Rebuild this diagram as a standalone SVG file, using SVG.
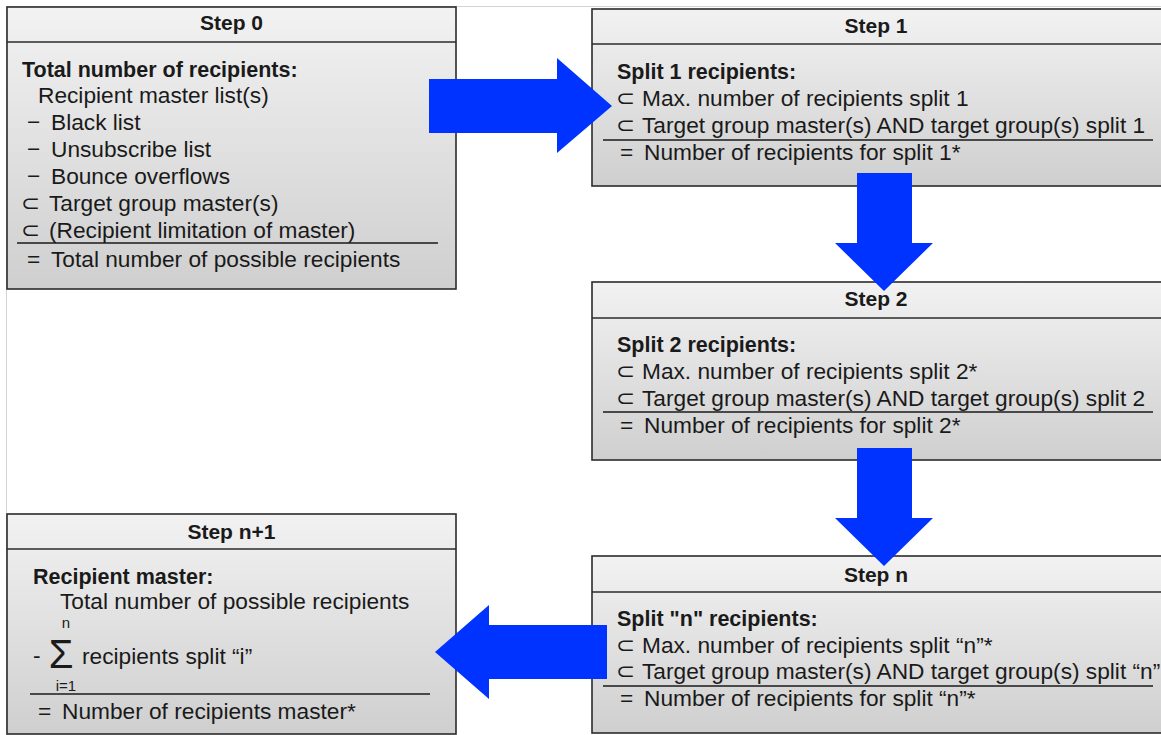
<svg xmlns="http://www.w3.org/2000/svg" width="1161" height="735" viewBox="0 0 1161 735">
<defs>
<linearGradient id="g" x1="0" y1="0" x2="0" y2="1">
<stop offset="0" stop-color="#f2f2f2"/>
<stop offset="1" stop-color="#cfcfcf"/>
</linearGradient>
</defs>
<style>
.box{fill:url(#g);stroke:#2b2b2b;stroke-width:1.6}
.ln{stroke:#2b2b2b;stroke-width:1.6;fill:none}
.sep{stroke:#1a1a1a;stroke-width:1.4;fill:none}
text{font-family:"Liberation Sans","DejaVu Sans",Arial,sans-serif;fill:#1a1a1a}
.t{font-size:21px;font-weight:bold;text-anchor:middle}
.b{font-size:21.5px;font-weight:bold}
.r{font-size:22.7px}
.s{font-size:15px}
.sub{font-family:"DejaVu Sans",sans-serif}
.arr{fill:#0033ff}
</style>
<rect width="1161" height="735" fill="#ffffff"/>
<path d="M6.5,735 V6.5 H1161" fill="none" stroke="#d4d4d4" stroke-width="1"/>

<g id="step0">
<rect class="box" x="7" y="7" width="449" height="282"/>
<line class="ln" x1="7" y1="42" x2="456" y2="42"/>
<text class="t" x="231.5" y="30">Step 0</text>
<text class="b" x="22" y="77">Total number of recipients:</text>
<text class="r" x="38" y="103">Recipient master list(s)</text>
<text class="r" y="130"><tspan x="27">−</tspan><tspan x="51">Black list</tspan></text>
<text class="r" y="157"><tspan x="27">−</tspan><tspan x="51">Unsubscribe list</tspan></text>
<text class="r" y="184"><tspan x="27">−</tspan><tspan x="51">Bounce overflows</tspan></text>
<text class="r" y="211"><tspan x="21" class="sub">⊂</tspan><tspan x="49">Target group master(s)</tspan></text>
<text class="r" y="238"><tspan x="21" class="sub">⊂</tspan><tspan x="49">(Recipient limitation of master)</tspan></text>
<line class="sep" x1="17" y1="243" x2="438" y2="243"/>
<text class="r" y="267"><tspan x="27">=</tspan><tspan x="51">Total number of possible recipients</tspan></text>
</g>

<g id="step1">
<rect class="box" x="592" y="9" width="575" height="177"/>
<line class="ln" x1="592" y1="44" x2="1161" y2="44"/>
<text class="t" x="876" y="33">Step 1</text>
<text class="b" x="617" y="79">Split 1 recipients:</text>
<text class="r" y="106"><tspan x="616" class="sub">⊂</tspan><tspan x="642">Max. number of recipients split 1</tspan></text>
<text class="r" y="133"><tspan x="616" class="sub">⊂</tspan><tspan x="642">Target group master(s) AND target group(s) split 1</tspan></text>
<line class="sep" x1="603" y1="140" x2="1153" y2="140"/>
<text class="r" y="160"><tspan x="620">=</tspan><tspan x="644">Number of recipients for split 1*</tspan></text>
</g>

<g id="step2">
<rect class="box" x="592" y="282" width="575" height="178"/>
<line class="ln" x1="592" y1="318" x2="1161" y2="318"/>
<text class="t" x="876" y="306">Step 2</text>
<text class="b" x="617" y="352">Split 2 recipients:</text>
<text class="r" y="379"><tspan x="616" class="sub">⊂</tspan><tspan x="642">Max. number of recipients split 2*</tspan></text>
<text class="r" y="406"><tspan x="616" class="sub">⊂</tspan><tspan x="642">Target group master(s) AND target group(s) split 2</tspan></text>
<line class="sep" x1="603" y1="412" x2="1153" y2="412"/>
<text class="r" y="433"><tspan x="620">=</tspan><tspan x="644">Number of recipients for split 2*</tspan></text>
</g>

<g id="stepn">
<rect class="box" x="592" y="556" width="575" height="177"/>
<line class="ln" x1="592" y1="592" x2="1161" y2="592"/>
<text class="t" x="876" y="582">Step n</text>
<text class="b" x="617" y="626">Split "n" recipients:</text>
<text class="r" y="653"><tspan x="616" class="sub">⊂</tspan><tspan x="642">Max. number of recipients split “n”*</tspan></text>
<text class="r" y="679"><tspan x="616" class="sub">⊂</tspan><tspan x="642">Target group master(s) AND target group(s) split “n”</tspan></text>
<line class="sep" x1="603" y1="686" x2="1153" y2="686"/>
<text class="r" y="706"><tspan x="620">=</tspan><tspan x="644">Number of recipients for split “n”*</tspan></text>
</g>

<g id="stepn1">
<rect class="box" x="7" y="514" width="449" height="220"/>
<line class="ln" x1="7" y1="549" x2="456" y2="549"/>
<text class="t" x="231.5" y="539">Step n+1</text>
<text class="b" x="33" y="584">Recipient master:</text>
<text class="r" x="60" y="609">Total number of possible recipients</text>
<text class="s" x="66" y="628" text-anchor="middle">n</text>
<text class="r" x="33" y="663">-</text>
<text x="61" y="668" font-size="40px" text-anchor="middle">Σ</text>
<text class="r" x="82" y="664">recipients split “i”</text>
<text class="s" x="66" y="691" text-anchor="middle">i=1</text>
<line class="sep" x1="30" y1="694" x2="430" y2="694"/>
<text class="r" y="719"><tspan x="38">=</tspan><tspan x="62">Number of recipients master*</tspan></text>
</g>

<g id="connectors">
<polygon class="arr" points="429,79 557,79 557,58 612,106 557,153 557,133 429,133"/>
<polygon class="arr" points="857,173 912,173 912,243 933,243 884,291 835,243 857,243"/>
<polygon class="arr" points="857,448 912,448 912,518 933,518 884,566 835,518 857,518"/>
<polygon class="arr" points="607,625 489,625 489,605 435,652 489,699 489,679 607,679"/>
</g>
</svg>
